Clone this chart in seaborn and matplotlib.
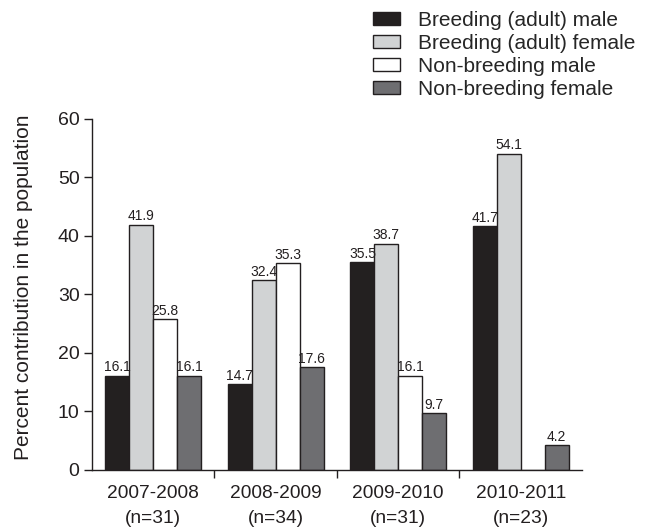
import numpy as np
import pandas as pd
import matplotlib
matplotlib.use("Agg")
import matplotlib.pyplot as plt
import seaborn as sns

seasons = ["2007-2008", "2008-2009", "2009-2010", "2010-2011"]
sample_sizes = ["(n=31)", "(n=34)", "(n=31)", "(n=23)"]
series_names = ["Breeding (adult) male", "Breeding (adult) female",
                "Non-breeding male", "Non-breeding female"]
breeding_male = [16.1, 14.7, 35.5, 41.7]
breeding_female = [41.9, 32.4, 38.7, 54.1]
nonbreeding_male = [25.8, 35.3, 16.1, 0.0]
nonbreeding_female = [16.1, 17.6, 9.7, 4.2]
yticks = [0, 10, 20, 30, 40, 50, 60]

colors = ["#231f20", "#d1d3d4", "#ffffff", "#6d6e71"]
edge = "#231f20"

rows = []
for name, vals in zip(series_names, [breeding_male, breeding_female,
                                     nonbreeding_male, nonbreeding_female]):
    for s, v in zip(seasons, vals):
        rows.append({"season": s, "group": name, "value": v})
df = pd.DataFrame(rows)

sns.set_theme(style="ticks")
plt.rcParams["font.family"] = ["Liberation Sans", "DejaVu Sans"]

fig = plt.figure(figsize=(6.51, 5.31), dpi=100)
ax = fig.add_axes([0.1413, 0.1149, 0.7527, 0.661])

sns.barplot(data=df, x="season", y="value", hue="group", order=seasons,
            hue_order=series_names, palette=colors, width=0.78,
            edgecolor=edge, linewidth=1.0, ax=ax, legend=True)

for cont in ax.containers:
    labels = ["%.1f" % b.get_height() if b.get_height() > 0 else "" for b in cont]
    ax.bar_label(cont, labels=labels, padding=1, fontsize=10, color="#231f20")

ax.set_xlim(-0.5, 3.5)
ax.set_ylim(0, 60)
ax.set_yticks(yticks)
ax.set_yticklabels([str(t) for t in yticks], fontsize=14, color="#231f20")
ax.set_xticks(range(len(seasons)))
ax.set_xticklabels([f"{s}\n{n}" for s, n in zip(seasons, sample_sizes)],
                   fontsize=13.8, color="#231f20", linespacing=1.6)
ax.tick_params(axis="x", length=0, pad=11)
ax.set_xticks([0.5, 1.5, 2.5], minor=True)
ax.tick_params(axis="x", which="minor", length=6, width=1, color=edge, direction="out")
ax.tick_params(axis="y", length=6, width=1, color=edge, direction="out", pad=3)
ax.set_xlabel("")
ax.set_ylabel("Percent contribution in the population", fontsize=15,
              color="#231f20")
ax.yaxis.set_label_coords(-0.12, 0.52)
for sp in ["top", "right"]:
    ax.spines[sp].set_visible(False)
for sp in ["left", "bottom"]:
    ax.spines[sp].set_color(edge)
    ax.spines[sp].set_linewidth(1.0)

handles, labels = ax.get_legend_handles_labels()
ax.legend_.remove()
fig.legend(handles, labels, loc="upper left", bbox_to_anchor=(373 / 651, 0.98),
           frameon=False, fontsize=15, handlelength=1.3, handleheight=0.55,
           handletextpad=0.85, labelspacing=0.2, borderaxespad=0, borderpad=0)

fig.savefig("out.png", dpi=100)
